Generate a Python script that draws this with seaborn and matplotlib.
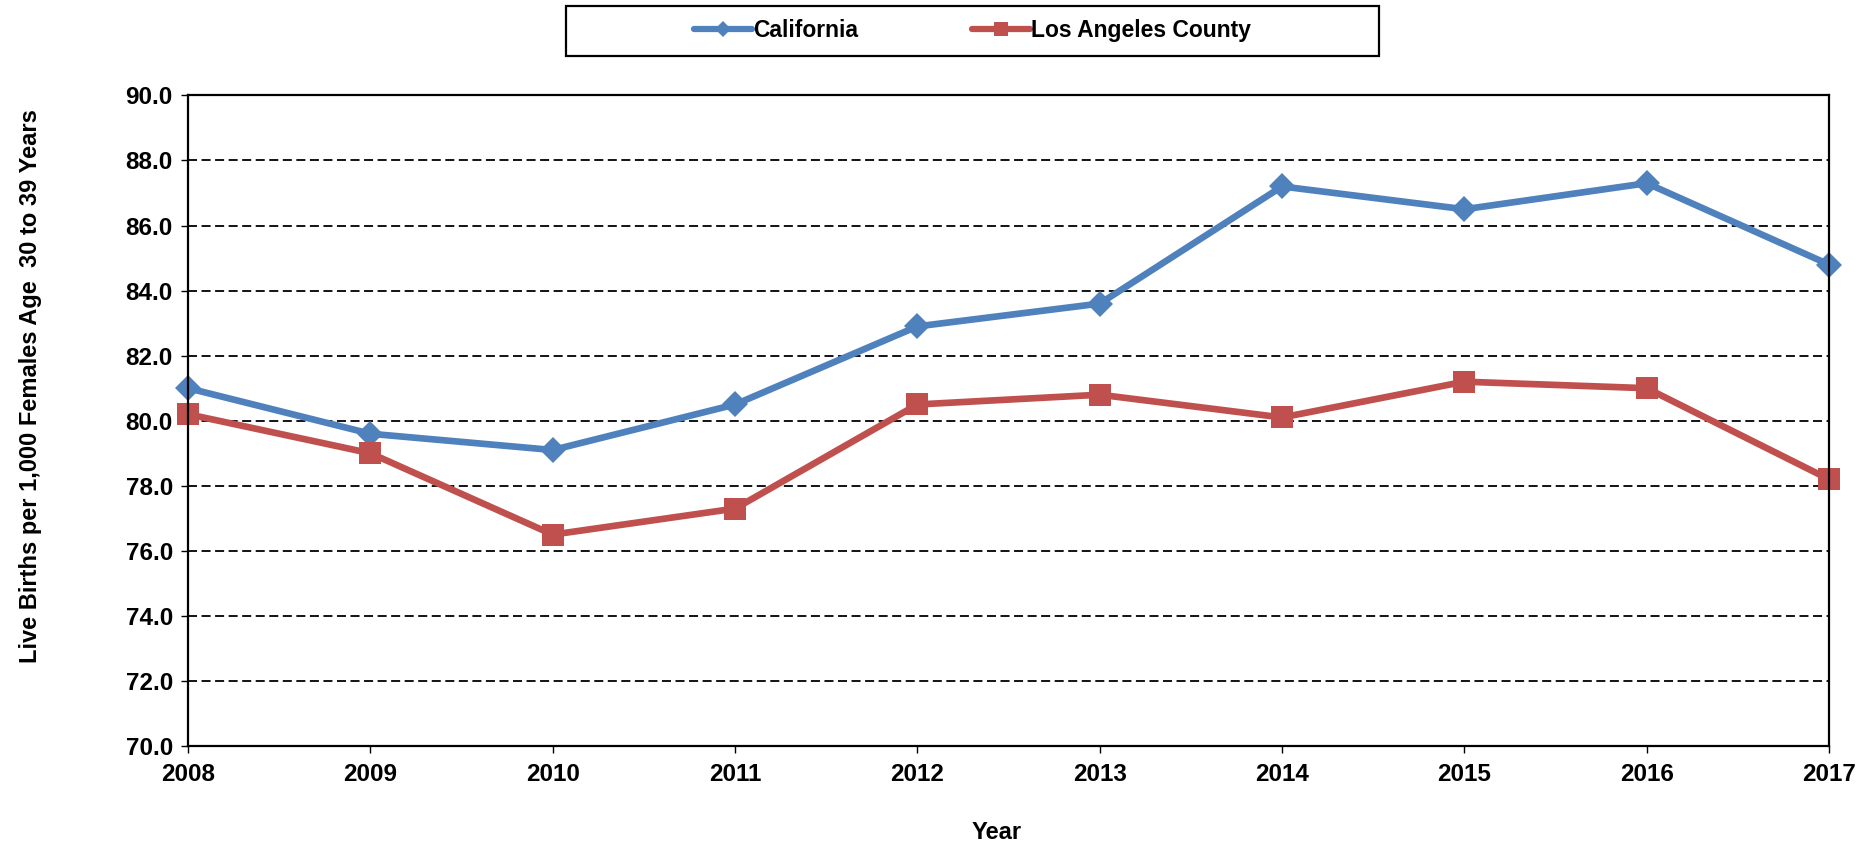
import pandas as pd
import seaborn as sns
import matplotlib.pyplot as plt
from matplotlib.patches import Rectangle

# --- data ---
years = [2008, 2009, 2010, 2011, 2012, 2013, 2014, 2015, 2016, 2017]
california = [81.0, 79.6, 79.1, 80.5, 82.9, 83.6, 87.2, 86.5, 87.3, 84.8]
la_county = [80.2, 79.0, 76.5, 77.3, 80.5, 80.8, 80.1, 81.2, 81.0, 78.2]
series_names = ['California', 'Los Angeles County']
y_ticks = [70, 72, 74, 76, 78, 80, 82, 84, 86, 88, 90]

rows = []
for y, v in zip(years, california):
    rows.append({'Year': y, 'Rate': v, 'Area': series_names[0]})
for y, v in zip(years, la_county):
    rows.append({'Year': y, 'Rate': v, 'Area': series_names[1]})
df = pd.DataFrame(rows)

sns.set_theme(style="white")
plt.rcParams['font.family'] = ['Liberation Sans', 'DejaVu Sans']
plt.rcParams['font.weight'] = 'bold'
# pure black text like the original Excel chart
for key in ['text.color', 'axes.labelcolor', 'xtick.color', 'ytick.color']:
    plt.rcParams[key] = 'black'

fig = plt.figure(figsize=(18.66, 8.44), dpi=100)
ax = fig.add_axes([0.1008, 0.116, 0.8794, 0.771])

palette = {'California': '#4F81BD', 'Los Angeles County': '#C0504D'}
sns.lineplot(
    data=df, x='Year', y='Rate', hue='Area', style='Area',
    palette=palette, markers={'California': 'D', 'Los Angeles County': 's'},
    dashes=False, linewidth=4.8, markeredgewidth=0, ax=ax, legend=False,
)
# marker sizes differ per series
for line, ms in zip(ax.lines, [13, 16.5]):
    line.set_markersize(ms)
    line.set_clip_on(False)

ax.set_xlim(2008, 2017)
ax.set_ylim(70, 90)
ax.set_xticks(years)
ax.set_yticks(y_ticks)
ax.set_yticklabels([f'{t:.1f}' for t in y_ticks])

# dashed gridlines
for t in y_ticks[1:-1]:
    ax.axhline(t, color='black', lw=1.3, ls=(0, (5, 2.5)), zorder=0.5)

for sp in ax.spines.values():
    sp.set_color('black')
    sp.set_linewidth(1.6)
ax.tick_params(axis='both', direction='out', length=5, width=1, color='black',
               labelcolor='black', labelsize=17.5, pad=6, bottom=True, left=True)
for lab in ax.get_xticklabels() + ax.get_yticklabels():
    lab.set_fontweight('bold')
ax.tick_params(axis='x', pad=7)

ax.set_xlabel('Year', fontsize=17, fontweight='bold', color='black')
ax.set_ylabel('Live Births per 1,000 Females Age  30 to 39 Years', fontsize=17,
              fontweight='bold', color='black')
ax.xaxis.set_label_coords(0.493, -0.115)
ax.yaxis.set_label_coords(-0.089, 0.553)

# legend above the plot inside a box
handles = [
    plt.Line2D([], [], color=palette['California'], lw=4.5, marker='D', markersize=8, markeredgewidth=0),
    plt.Line2D([], [], color=palette['Los Angeles County'], lw=4.5, marker='s', markersize=10, markeredgewidth=0),
]
leg = fig.legend(handles, series_names, loc='center', bbox_to_anchor=(0.5212, 0.9633),
                 ncol=2, frameon=False, handlelength=2.5, handletextpad=0.05,
                 columnspacing=5.0, prop={'weight': 'bold', 'size': 16.5})
for txt in leg.get_texts():
    txt.set_color('black')
fig.patches.append(Rectangle((566 / 1866, 1 - 56 / 844), (1379 - 566) / 1866, 50 / 844,
                             transform=fig.transFigure, fill=False, edgecolor='black', lw=1.6))

fig.savefig('out.png', dpi=100)
